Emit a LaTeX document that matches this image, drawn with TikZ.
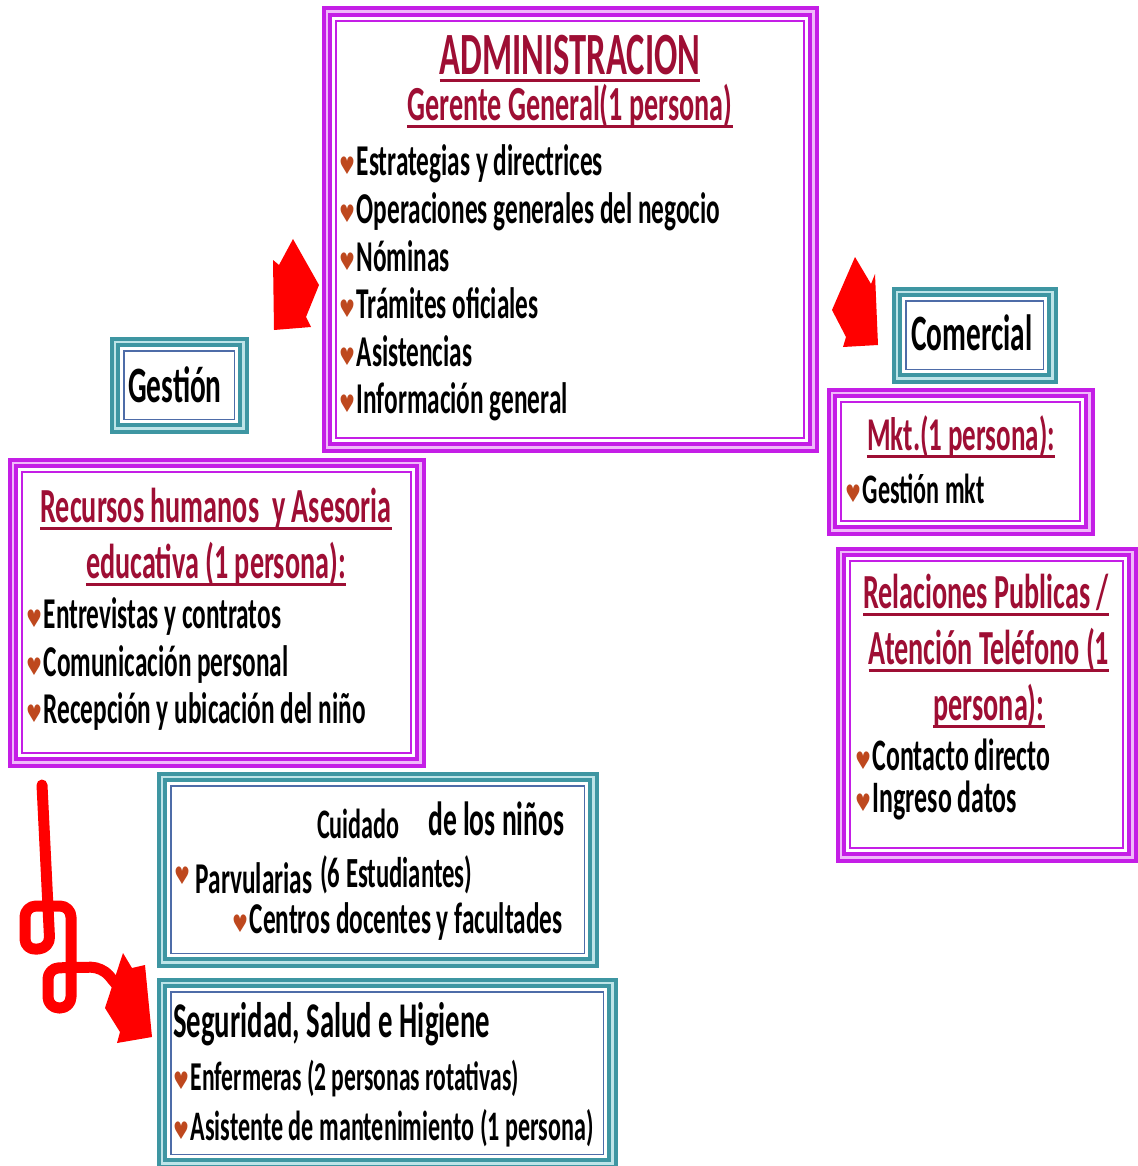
\documentclass[tikz,border=0pt]{standalone}
\usepackage{fontspec}
\setmainfont{Carlito}
\newfontfamily\narrow{Carlito}[FakeStretch=0.575, UprightFont=*-Bold]
\newfontfamily\symb{DejaVu Sans}

\definecolor{framepurple}{RGB}{196,30,230}
\definecolor{framepink}{RGB}{240,185,250}
\definecolor{frameteal}{RGB}{62,150,162}
\definecolor{tealpale}{RGB}{190,228,232}
\definecolor{framesteel}{RGB}{78,108,168}
\definecolor{titlered}{RGB}{158,14,52}
\definecolor{arrowred}{RGB}{255,0,0}
\definecolor{bulletbrown}{RGB}{190,72,30}

\newcommand\fs[1]{\fontsize{#1}{#1}\selectfont}
\newcommand\bul[1][1pt]{{\symb\color{bulletbrown}\fs{21}\raisebox{#1}{\scalebox{0.85}[1.15]{♥}}}\hspace{1.5pt}}

\begin{document}
\begin{tikzpicture}[x=1pt, y=-1pt,
    purpleframe/.style={draw=framepurple, line width=4pt, double=framepink, double distance=2.5pt, inner sep=0pt, outer sep=0pt},
    tealframe/.style={draw=frameteal, line width=4pt, double=tealpale, double distance=2.5pt, inner sep=0pt, outer sep=0pt},
    purpleinner/.style={draw=framepurple, line width=2pt},
    tealinner/.style={draw=framesteel, line width=1.5pt},
    titletext/.style={anchor=base, inner sep=0pt, text=titlered, font=\narrow},
    labeltext/.style={anchor=base, inner sep=0pt, font=\narrow},
    itemtext/.style={anchor=base west, inner sep=0pt, font=\narrow},
    uline/.style={draw=titlered, line width=3pt},
    redarrow/.style={fill=arrowred, draw=none},
    squiggle/.style={draw=arrowred, line width=11pt, rounded corners=11pt, line cap=round, line join=round}]

    \useasboundingbox (0,0) rectangle (1137,1166);
    \fill[white] (0,0) rectangle (1137,1166);

    % Draw the frames
    \node[purpleframe, minimum width=486.5pt, minimum height=435.5pt] (adm) at (570,229.5) {};
    \node[tealframe, minimum width=128.5pt, minimum height=86.5pt] (gest) at (179,385) {};
    \node[tealframe, minimum width=155.5pt, minimum height=86.5pt] (com) at (974.5,335) {};
    \node[purpleframe, minimum width=257.5pt, minimum height=137.5pt] (mkt) at (960.5,461.5) {};
    \node[purpleframe, minimum width=291.5pt, minimum height=305.5pt] (rrpp) at (986.5,704.5) {};
    \node[purpleframe, minimum width=407.5pt, minimum height=299.5pt] (rrhh) at (216.5,612.5) {};
    \node[tealframe, minimum width=431.5pt, minimum height=185.5pt] (cuid) at (377.5,869.5) {};
    \node[tealframe, minimum width=450.5pt, minimum height=180.5pt] (seg) at (387,1073) {};

    \foreach \n in {adm,mkt,rrpp,rrhh}
        \draw[purpleinner] ([shift={(9pt,9pt)}]\n.south west) rectangle ([shift={(-9pt,-9pt)}]\n.north east);
    \foreach \n in {gest,com,cuid,seg}
        \draw[tealinner] ([shift={(9pt,9pt)}]\n.south west) rectangle ([shift={(-9pt,-9pt)}]\n.north east);

    % Administracion
    \node[titletext] (admA) at (570,75) {\fs{60}ADMINISTRACION};
    \node[titletext] (admB) at (570,121) {\fs{49}Gerente General(1 persona)};
    \node[itemtext] (adm1) at (339,176) {\bul\fs{44}Estrategias y directrices};
    \node[itemtext] (adm2) at (339,223.5) {\bul\fs{44}Operaciones generales del negocio};
    \node[itemtext] (adm3) at (339,271) {\bul\fs{44}Nóminas};
    \node[itemtext] (adm4) at (339,318.5) {\bul\fs{44}Trámites oficiales};
    \node[itemtext] (adm5) at (339,366) {\bul\fs{44}Asistencias};
    \node[itemtext] (adm6) at (339,413.5) {\bul\fs{44}Información general};

    % Gestion and Comercial
    \node[labeltext] (gestT) at (175,402) {\fs{51}Gestión};
    \node[labeltext] (comT) at (972,350) {\fs{51}Comercial};

    % Mkt
    \node[titletext] (mktT) at (961,450) {\fs{47}Mkt.(1 persona):};
    \node[itemtext] (mkt1) at (845,503) {\bul\fs{42}Gestión mkt};

    % Relaciones publicas
    \node[titletext] (rrppA) at (986,608) {\fs{49}Relaciones Publicas /};
    \node[titletext] (rrppB) at (989,664) {\fs{49}Atención Teléfono (1};
    \node[titletext] (rrppC) at (989,720) {\fs{49}persona):};
    \node[itemtext] (rrpp1) at (855,770) {\bul\fs{45}Contacto directo};
    \node[itemtext] (rrpp2) at (855,812) {\bul\fs{45}Ingreso datos};

    % Recursos humanos
    \node[titletext] (rrhhA) at (216,522) {\fs{49}Recursos humanos~ y Asesoria};
    \node[titletext] (rrhhB) at (216,578) {\fs{49}educativa (1 persona):};
    \node[itemtext] (rrhh1) at (26,628) {\bul\fs{44}Entrevistas y contratos};
    \node[itemtext] (rrhh2) at (26,676) {\bul\fs{44}Comunicación personal};
    \node[itemtext] (rrhh3) at (26,723) {\bul\fs{44}Recepción y ubicación del niño};

    % Cuidado de los ninos
    \node[itemtext] (cuidA) at (317,838) {\fs{42}Cuidado};
    \node[itemtext] (cuidB) at (428,835) {\fs{48}de los niños};
    \node[itemtext] (cuid1) at (174,893) {\bul[9pt]\hspace{4pt}\fs{44}Parvularias};
    \node[itemtext] (cuid2) at (320,887) {\fs{43}(6 Estudiantes)};
    \node[itemtext] (cuid3) at (232,933) {\bul\fs{44}Centros docentes y facultades};

    % Seguridad
    \node[itemtext] (segT) at (173,1037) {\fs{50}Seguridad, Salud e Higiene};
    \node[itemtext] (seg1) at (173,1090) {\bul\fs{41}Enfermeras (2 personas rotativas)};
    \node[itemtext] (seg2) at (173,1140) {\bul\fs{42}Asistente de mantenimiento (1 persona)};

    % Underline the titles
    \foreach \t in {admA,admB,mktT,rrppA,rrppB,rrppC,rrhhA,rrhhB}
        \draw[uline] ([yshift=-6pt]\t.base west) -- ([yshift=-6pt]\t.base east);

    % Red arrows
    \fill[redarrow] (273,260) -- (279,265) -- (293,239) -- (319,285) -- (306,317) -- (311,327) -- (274,330) -- cycle;
    \fill[redarrow] (855,257) -- (871,284) -- (875,274) -- (878,345) -- (843,347) -- (846,337) -- (832,310) -- cycle;
    \draw[squiggle] (42,785) -- (50,948) -- (25,950) -- (25,906) -- (71,906) -- (71,1008) -- (48,1008) -- (48,968) -- (102,967) -- (116,984);
    \fill[redarrow] (123,953) -- (132,968) -- (145,965) -- (152,1037) -- (117,1043) -- (120,1032) -- (105,1008) -- cycle;

\end{tikzpicture}
\end{document}
